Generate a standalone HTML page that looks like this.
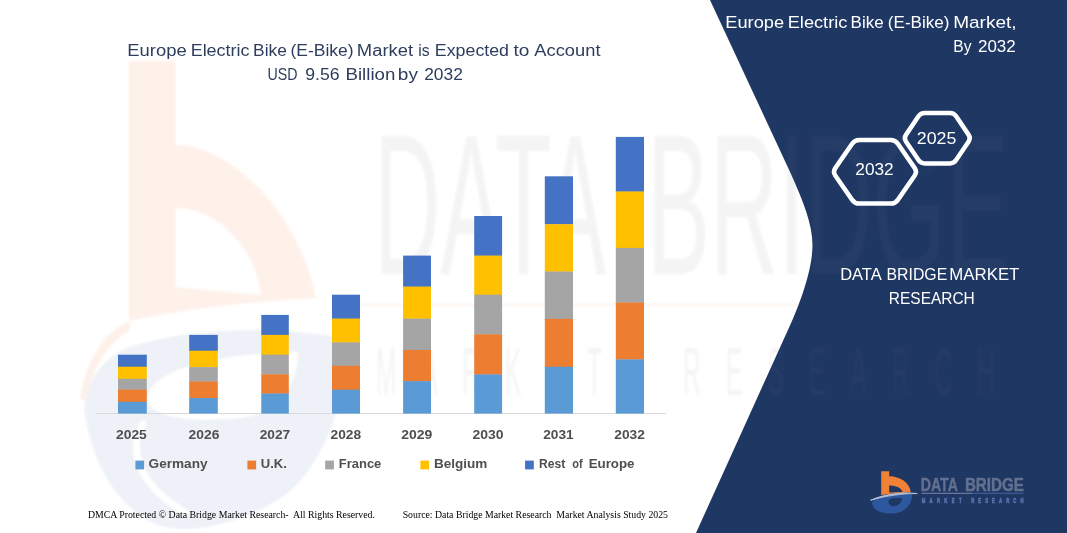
<!DOCTYPE html>
<html><head><meta charset="utf-8"><title>Europe Electric Bike (E-Bike) Market</title>
<style>
html,body{margin:0;padding:0;background:#fff;}
body{width:1067px;height:533px;overflow:hidden;font-family:"Liberation Sans",sans-serif;}
svg{display:block;}
text{font-family:"Liberation Sans",sans-serif;}
.serif text{font-family:"Liberation Serif",serif;}
</style></head><body>
<svg width="1067" height="533" viewBox="0 0 1067 533">
<defs><clipPath id="cp"><path d="M710,0 L791,174 C803,201 812.5,224 812.5,245 C812.5,270 800,306 782.5,342 L696,533 H1067 V0 Z"/></clipPath>
<filter id="bl" x="-5%" y="-5%" width="110%" height="110%"><feGaussianBlur stdDeviation="1.2"/></filter></defs>
<rect width="1067" height="533" fill="#ffffff"/>
<!-- watermark logo -->
<g id="wm-logo" filter="url(#bl)">
<path d="M129,61 H175.3 V145 C232,145 300,215 316,298 C260,301 190,308 129,321 Z M175.3,208 C215,208 255,245 261,295 L175.3,287 Z" fill="#fef1ea" fill-rule="evenodd"/>
<path d="M84,410 C86,375 110,355 127,348 C170,333 250,322 346,338 C350,400 320,470 285,495 C250,520 200,533 170,528 C130,520 95,480 84,410 Z M147,400 C148,374 200,354 298,352 C298,385 280,413 240,418 C200,422 152,420 147,400 Z" fill="#eef1f7" fill-rule="evenodd"/>
<path d="M143,424 C130,446 133,482 186,513" fill="none" stroke="#ffffff" stroke-width="7" stroke-linecap="round"/>
<path d="M86,402 C93,356 120,336 130,330 L130,321 C110,328 88,352 80,398 Z" fill="#fdf1ea"/>
</g>
<!-- watermark text -->
<g filter="url(#bl)">
<g fill="#f4f4f4" opacity="1">
<text x="374" y="273.5" font-size="201" textLength="232" lengthAdjust="spacingAndGlyphs">DATA</text>
<text x="647" y="273.5" font-size="201" textLength="362" lengthAdjust="spacingAndGlyphs">BRIDGE</text>
<g transform="translate(376,395) scale(0.36,1)"><text x="0" y="0" font-size="68" textLength="628" lengthAdjust="spacing">MARKET</text>
<text x="853" y="0" font-size="68" textLength="867" lengthAdjust="spacing">RESEARCH</text></g>
</g>
<rect x="360" y="304" width="640" height="1.5" fill="#fbeee6"/>
</g>
<!-- title -->
<g fill="#2e3d5e" font-size="17.3">
<text x="127.33" y="55.9" textLength="59.42" lengthAdjust="spacingAndGlyphs">Europe</text>
<text x="190.66" y="55.9" textLength="58.87" lengthAdjust="spacingAndGlyphs">Electric</text>
<text x="253.10" y="55.9" textLength="33.72" lengthAdjust="spacingAndGlyphs">Bike</text>
<text x="290.49" y="55.9" textLength="63.18" lengthAdjust="spacingAndGlyphs">(E-Bike)</text>
<text x="356.83" y="55.9" textLength="56.25" lengthAdjust="spacingAndGlyphs">Market</text>
<text x="418.29" y="55.9" textLength="11.38" lengthAdjust="spacingAndGlyphs">is</text>
<text x="434.87" y="55.9" textLength="74.16" lengthAdjust="spacingAndGlyphs">Expected</text>
<text x="513.50" y="55.9" textLength="15.87" lengthAdjust="spacingAndGlyphs">to</text>
<text x="534.30" y="55.9" textLength="66.19" lengthAdjust="spacingAndGlyphs">Account</text>
<text x="267.58" y="79.8" textLength="30.02" lengthAdjust="spacingAndGlyphs">USD</text>
<text x="305.30" y="79.8" textLength="34.32" lengthAdjust="spacingAndGlyphs">9.56</text>
<text x="345.52" y="79.8" textLength="49.84" lengthAdjust="spacingAndGlyphs">Billion</text>
<text x="397.80" y="79.8" textLength="20.11" lengthAdjust="spacingAndGlyphs">by</text>
<text x="424.20" y="79.8" textLength="38.61" lengthAdjust="spacingAndGlyphs">2032</text>
</g>
<!-- axis line -->
<rect x="96" y="413" width="570" height="1" fill="#d9d9d9"/>
<!-- bars -->
<rect x="118.0" y="354.7" width="28.8" height="12.3" fill="#4472C4"/>
<rect x="118.0" y="366.7" width="28.8" height="12.4" fill="#FFC000"/>
<rect x="118.0" y="378.8" width="28.8" height="11.1" fill="#A5A5A5"/>
<rect x="118.0" y="389.6" width="28.8" height="12.5" fill="#ED7D31"/>
<rect x="118.0" y="401.8" width="28.8" height="11.8" fill="#5B9BD5"/>
<rect x="189.2" y="334.9" width="28.6" height="16.1" fill="#4472C4"/>
<rect x="189.2" y="350.7" width="28.6" height="16.7" fill="#FFC000"/>
<rect x="189.2" y="367.1" width="28.6" height="14.7" fill="#A5A5A5"/>
<rect x="189.2" y="381.5" width="28.6" height="16.8" fill="#ED7D31"/>
<rect x="189.2" y="398.0" width="28.6" height="15.6" fill="#5B9BD5"/>
<rect x="261.3" y="314.9" width="27.5" height="20.3" fill="#4472C4"/>
<rect x="261.3" y="334.9" width="27.5" height="20.1" fill="#FFC000"/>
<rect x="261.3" y="354.7" width="27.5" height="19.9" fill="#A5A5A5"/>
<rect x="261.3" y="374.3" width="27.5" height="19.5" fill="#ED7D31"/>
<rect x="261.3" y="393.5" width="27.5" height="20.1" fill="#5B9BD5"/>
<rect x="332.0" y="294.7" width="28.0" height="24.2" fill="#4472C4"/>
<rect x="332.0" y="318.6" width="28.0" height="24.1" fill="#FFC000"/>
<rect x="332.0" y="342.4" width="28.0" height="23.7" fill="#A5A5A5"/>
<rect x="332.0" y="365.8" width="28.0" height="24.2" fill="#ED7D31"/>
<rect x="332.0" y="389.7" width="28.0" height="23.9" fill="#5B9BD5"/>
<rect x="403.1" y="255.6" width="27.9" height="31.3" fill="#4472C4"/>
<rect x="403.1" y="286.6" width="27.9" height="32.3" fill="#FFC000"/>
<rect x="403.1" y="318.6" width="27.9" height="31.7" fill="#A5A5A5"/>
<rect x="403.1" y="350.0" width="27.9" height="31.4" fill="#ED7D31"/>
<rect x="403.1" y="381.1" width="27.9" height="32.5" fill="#5B9BD5"/>
<rect x="474.2" y="216.0" width="27.9" height="39.9" fill="#4472C4"/>
<rect x="474.2" y="255.6" width="27.9" height="39.4" fill="#FFC000"/>
<rect x="474.2" y="294.7" width="27.9" height="39.9" fill="#A5A5A5"/>
<rect x="474.2" y="334.3" width="27.9" height="40.4" fill="#ED7D31"/>
<rect x="474.2" y="374.4" width="27.9" height="39.2" fill="#5B9BD5"/>
<rect x="544.8" y="176.3" width="28.2" height="48.2" fill="#4472C4"/>
<rect x="544.8" y="224.2" width="28.2" height="47.6" fill="#FFC000"/>
<rect x="544.8" y="271.5" width="28.2" height="47.7" fill="#A5A5A5"/>
<rect x="544.8" y="318.9" width="28.2" height="48.2" fill="#ED7D31"/>
<rect x="544.8" y="366.8" width="28.2" height="46.8" fill="#5B9BD5"/>
<rect x="615.8" y="136.9" width="28.2" height="54.9" fill="#4472C4"/>
<rect x="615.8" y="191.5" width="28.2" height="56.7" fill="#FFC000"/>
<rect x="615.8" y="247.9" width="28.2" height="54.9" fill="#A5A5A5"/>
<rect x="615.8" y="302.5" width="28.2" height="57.2" fill="#ED7D31"/>
<rect x="615.8" y="359.4" width="28.2" height="54.2" fill="#5B9BD5"/>
<!-- x labels -->
<g fill="#4f4f4f" font-weight="bold" font-size="13.7">
<text x="116.00" y="439.1" textLength="30.81" lengthAdjust="spacingAndGlyphs">2025</text>
<text x="188.60" y="439.1" textLength="30.81" lengthAdjust="spacingAndGlyphs">2026</text>
<text x="259.70" y="439.1" textLength="30.51" lengthAdjust="spacingAndGlyphs">2027</text>
<text x="330.50" y="439.1" textLength="30.61" lengthAdjust="spacingAndGlyphs">2028</text>
<text x="401.20" y="439.1" textLength="31.10" lengthAdjust="spacingAndGlyphs">2029</text>
<text x="472.40" y="439.1" textLength="31.10" lengthAdjust="spacingAndGlyphs">2030</text>
<text x="543.20" y="439.1" textLength="30.51" lengthAdjust="spacingAndGlyphs">2031</text>
<text x="614.30" y="439.1" textLength="30.61" lengthAdjust="spacingAndGlyphs">2032</text>
</g>
<!-- legend -->
<rect x="135.4" y="460.6" width="8.7" height="8.8" fill="#5B9BD5"/>
<rect x="247.4" y="460.6" width="8.7" height="8.8" fill="#ED7D31"/>
<rect x="325.2" y="460.6" width="8.7" height="8.8" fill="#A5A5A5"/>
<rect x="420.4" y="460.6" width="8.7" height="8.8" fill="#FFC000"/>
<rect x="525.1" y="460.6" width="8.7" height="8.8" fill="#4472C4"/>
<g fill="#4f4f4f" font-weight="bold" font-size="13.2">
<text x="148.60" y="468.4" textLength="58.91" lengthAdjust="spacingAndGlyphs">Germany</text>
<text x="260.80" y="468.4" textLength="26.06" lengthAdjust="spacingAndGlyphs">U.K.</text>
<text x="338.80" y="468.4" textLength="42.53" lengthAdjust="spacingAndGlyphs">France</text>
<text x="433.90" y="468.4" textLength="53.34" lengthAdjust="spacingAndGlyphs">Belgium</text>
<text x="539.10" y="468.4" textLength="26.24" lengthAdjust="spacingAndGlyphs">Rest</text>
<text x="572.30" y="468.4" textLength="10.39" lengthAdjust="spacingAndGlyphs">of</text>
<text x="588.70" y="468.4" textLength="45.84" lengthAdjust="spacingAndGlyphs">Europe</text>
</g>
<!-- footer -->
<g class="serif" fill="#000" font-size="9.4" xml:space="preserve">
<text x="87.90" y="518.4" textLength="287.06" lengthAdjust="spacingAndGlyphs">DMCA Protected © Data Bridge Market Research-  All Rights Reserved.</text>
<text x="402.70" y="518.4" textLength="265.27" lengthAdjust="spacingAndGlyphs">Source: Data Bridge Market Research  Market Analysis Study 2025</text>
</g>
<!-- navy panel -->
<path id="panel" d="M710,0 L791,174 C803,201 812.5,224 812.5,245 C812.5,270 800,306 782.5,342 L696,533 H1067 V0 Z" fill="#1f3763"/>
<!-- watermark over navy -->
<g clip-path="url(#cp)"><g filter="url(#bl)">
<g fill="#ffffff" opacity="0.028">
<text x="374" y="273.5" font-size="201" textLength="232" lengthAdjust="spacingAndGlyphs">DATA</text>
<text x="647" y="273.5" font-size="201" textLength="362" lengthAdjust="spacingAndGlyphs">BRIDGE</text>
<g transform="translate(376,395) scale(0.36,1)"><text x="0" y="0" font-size="68" textLength="628" lengthAdjust="spacing">MARKET</text>
<text x="853" y="0" font-size="68" textLength="867" lengthAdjust="spacing">RESEARCH</text></g>
</g>
</g></g>
<!-- right title -->
<g fill="#ffffff" font-size="16.8">
<text x="725.31" y="27.7" textLength="58.85" lengthAdjust="spacingAndGlyphs">Europe</text>
<text x="787.72" y="27.7" textLength="59.61" lengthAdjust="spacingAndGlyphs">Electric</text>
<text x="850.59" y="27.7" textLength="33.05" lengthAdjust="spacingAndGlyphs">Bike</text>
<text x="887.88" y="27.7" textLength="61.61" lengthAdjust="spacingAndGlyphs">(E-Bike)</text>
<text x="953.17" y="27.7" textLength="63.49" lengthAdjust="spacingAndGlyphs">Market,</text>
<text x="953.37" y="51.5" textLength="18.16" lengthAdjust="spacingAndGlyphs">By</text>
<text x="978.00" y="51.5" textLength="37.74" lengthAdjust="spacingAndGlyphs">2032</text>
</g>
<!-- hexagons -->
<g fill="none" stroke="#ffffff" stroke-width="4.5" stroke-linejoin="round">
<path d="M835.26,175.50 Q832.70,171.80 835.26,168.10 L852.14,143.70 Q854.70,140.00 859.20,140.00 L890.80,140.00 Q895.30,140.00 897.86,143.70 L914.74,168.10 Q917.30,171.80 914.74,175.50 L897.86,199.90 Q895.30,203.60 890.80,203.60 L859.20,203.60 Q854.70,203.60 852.14,199.90 Z"/>
<path d="M905.94,141.52 Q903.70,138.20 905.94,134.88 L918.46,116.32 Q920.70,113.00 924.70,113.00 L949.90,113.00 Q953.90,113.00 956.14,116.32 L968.66,134.88 Q970.90,138.20 968.66,141.52 L956.14,160.08 Q953.90,163.40 949.90,163.40 L924.70,163.40 Q920.70,163.40 918.46,160.08 Z" fill="#1f3763"/>
</g>
<g fill="#ffffff" font-size="17.3">
<text x="855.30" y="175.4" textLength="38.41" lengthAdjust="spacingAndGlyphs">2032</text>
<text x="916.80" y="143.9" textLength="39.53" lengthAdjust="spacingAndGlyphs">2025</text>
</g>
<!-- DBMR text -->
<g fill="#ffffff" font-size="16.5">
<text x="840.20" y="279.5" textLength="41.50" lengthAdjust="spacingAndGlyphs">DATA</text>
<text x="886.54" y="279.5" textLength="60.66" lengthAdjust="spacingAndGlyphs">BRIDGE</text>
<text x="949.38" y="279.5" textLength="70.00" lengthAdjust="spacingAndGlyphs">MARKET</text>
<text x="888.86" y="303.7" textLength="85.89" lengthAdjust="spacingAndGlyphs">RESEARCH</text>
</g>
<!-- logo -->
<g id="logo">
<path d="M872,503 C873,498 884,495.5 893,495 C901,494.5 909,494 912,494.3 C912.5,500 909,509 899,512.5 C890,515 877,513 873.5,507 C872.5,505.5 872,504 872,503 Z M888.5,500.5 C888,503.5 890,506.5 894,506.3 C898,506 901.5,502.5 902.5,498.5 C898,497.5 889.5,498 888.5,500.5 Z" fill="#2d589f" fill-rule="evenodd"/>
<path d="M881.2,471.2 H889.2 V476.3 C900,476.5 909.5,482 910.8,492.3 C903,492.8 891,493.6 881.2,495 Z M889.2,485.4 C896,485.4 902,488 902.6,492 L889.2,492.6 Z" fill="#f08137" fill-rule="evenodd"/>
<path d="M870.5,500.3 C884,494 903,491.8 917.3,493.6 C903,493.4 886,495.6 870.5,500.3 Z" fill="#b9c3d8" stroke="#b9c3d8" stroke-width="0.9" stroke-linejoin="round"/>
<g fill="#63708f" stroke="#63708f" stroke-width="0.45" font-weight="bold" font-size="18.9">
<text x="920.75" y="491.1" textLength="37.08" lengthAdjust="spacingAndGlyphs">DATA</text>
<text x="964.90" y="491.1" textLength="58.88" lengthAdjust="spacingAndGlyphs">BRIDGE</text></g>
<rect x="921.5" y="492.8" width="51" height="0.9" fill="#8a8fb0"/>
<rect x="972.5" y="492.8" width="51" height="0.9" fill="#4f6ca6"/>
<g transform="translate(921.7,502.6) scale(0.62,1)" fill="#5a78b2" stroke="#5a78b2" stroke-width="0.5" font-weight="bold" font-size="6.9">
<text x="0" y="0" textLength="64.2" lengthAdjust="spacing">MARKET</text>
<text x="79.8" y="0" textLength="84.4" lengthAdjust="spacing">RESEARCH</text></g>
</g>
</svg>
</body></html>
